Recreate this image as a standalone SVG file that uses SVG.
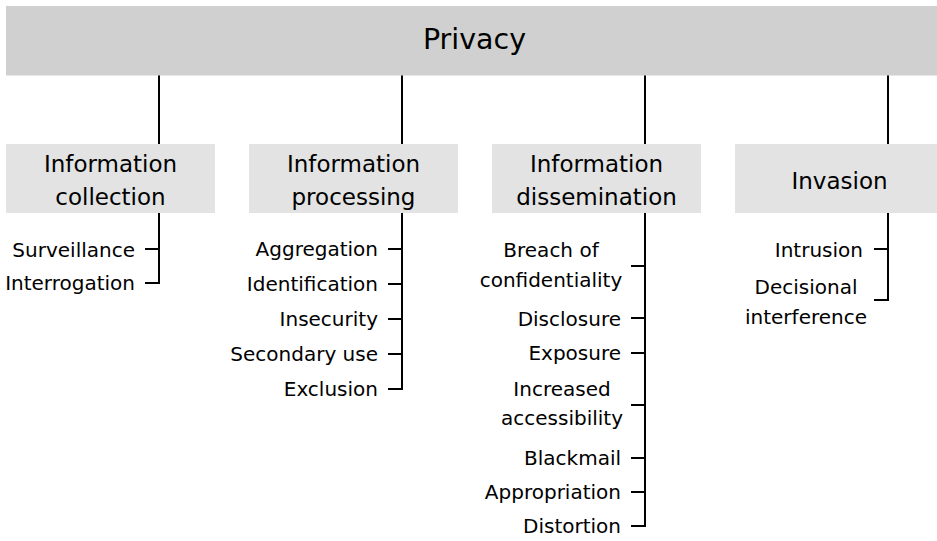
<svg xmlns="http://www.w3.org/2000/svg" width="937" height="541" viewBox="0 0 937 541">
  <style>
    text { font-family: "DejaVu Sans", "Liberation Sans", sans-serif; fill: #000; }
    .root { fill: #cfd0cf; }
    .cat { fill: #e3e3e3; }
    .title { font-size: 28.5px; text-anchor: middle; }
    .catlabel { font-size: 23px; text-anchor: middle; }
    .leaf { font-size: 20px; text-anchor: end; }
    .leafc { font-size: 20px; text-anchor: middle; }
    .wire { stroke: #000; stroke-width: 2; fill: none; }
  </style>

  <!-- connectors: trunks from the root, spines under each category, leaf ticks -->
  <g id="connectors" class="wire">
    <path d="M159 75V144 M402 75V144 M645 75V144 M888 75V144"/>
    <path d="M159 213V283 M145 249H160 M145 283H160"/>
    <path d="M402 213V389 M388 249H403 M388 284H403 M388 319H403 M388 354H403 M388 389H403"/>
    <path d="M645 213V527 M631 266H646 M631 318H646 M631 353H646 M631 405H646 M631 458H646 M631 492H646 M631 526H646"/>
    <path d="M888 213V300 M874 249H889 M874 300H889"/>
  </g>

  <g id="privacy">
    <rect class="root" x="6" y="6" width="937" height="69.5"/>
    <text class="title" x="474.5" y="49">Privacy</text>
  </g>

  <g id="information-collection">
    <rect class="cat" x="6" y="144" width="209" height="69"/>
    <text class="catlabel" x="110.5" y="172">Information</text>
    <text class="catlabel" x="110.5" y="205">collection</text>
  </g>
  <g id="information-processing">
    <rect class="cat" x="249" y="144" width="209" height="69"/>
    <text class="catlabel" x="353.5" y="172">Information</text>
    <text class="catlabel" x="353.5" y="205">processing</text>
  </g>
  <g id="information-dissemination">
    <rect class="cat" x="492" y="144" width="209" height="69"/>
    <text class="catlabel" x="596.5" y="172">Information</text>
    <text class="catlabel" x="596.5" y="205">dissemination</text>
  </g>
  <g id="invasion">
    <rect class="cat" x="735" y="144" width="209" height="69"/>
    <text class="catlabel" x="839.5" y="188.5">Invasion</text>
  </g>

  <!-- leaves: information collection -->
  <g id="surveillance"><text class="leaf" x="135" y="256.5">Surveillance</text></g>
  <g id="interrogation"><text class="leaf" x="135" y="290">Interrogation</text></g>

  <!-- leaves: information processing -->
  <g id="aggregation"><text class="leaf" x="378" y="256">Aggregation</text></g>
  <g id="identification"><text class="leaf" x="378" y="291">Identification</text></g>
  <g id="insecurity"><text class="leaf" x="378" y="326">Insecurity</text></g>
  <g id="secondary-use"><text class="leaf" x="378" y="361">Secondary use</text></g>
  <g id="exclusion"><text class="leaf" x="378" y="396">Exclusion</text></g>

  <!-- leaves: information dissemination -->
  <g id="breach-of-confidentiality">
    <text class="leafc" x="551" y="257">Breach of</text>
    <text class="leafc" x="551" y="287">confidentiality</text>
  </g>
  <g id="disclosure"><text class="leaf" x="621" y="326">Disclosure</text></g>
  <g id="exposure"><text class="leaf" x="621" y="360">Exposure</text></g>
  <g id="increased-accessibility">
    <text class="leafc" x="562" y="396">Increased</text>
    <text class="leafc" x="562" y="425">accessibility</text>
  </g>
  <g id="blackmail"><text class="leaf" x="621" y="465">Blackmail</text></g>
  <g id="appropriation"><text class="leaf" x="621" y="499">Appropriation</text></g>
  <g id="distortion"><text class="leaf" x="621" y="533">Distortion</text></g>

  <!-- leaves: invasion -->
  <g id="intrusion"><text class="leaf" x="863" y="256.5">Intrusion</text></g>
  <g id="decisional-interference">
    <text class="leafc" x="806" y="294">Decisional</text>
    <text class="leafc" x="806" y="323.5">interference</text>
  </g>
</svg>
